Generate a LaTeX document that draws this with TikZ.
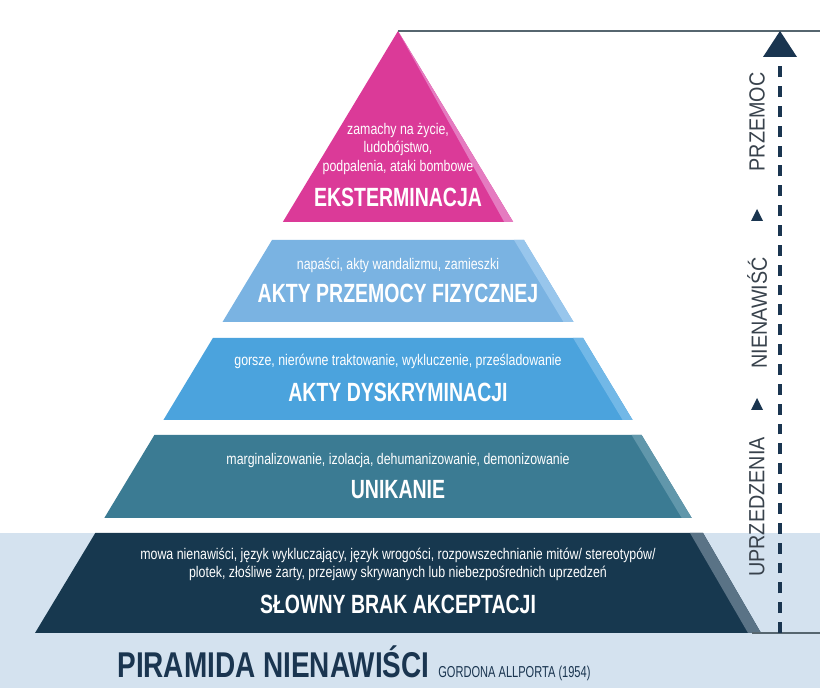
\documentclass[tikz,border=0pt]{standalone}
\usepackage{fontspec}
\setmainfont{Liberation Sans}
\newfontfamily\narrowfont[FakeStretch=0.74]{Liberation Sans}
\newfontfamily\notefont[FakeStretch=0.8]{Liberation Sans}
\newfontfamily\sidefont[FakeStretch=0.9]{Liberation Sans}
\newfontfamily\bigfont[FakeStretch=0.78]{Liberation Sans}
\newfontfamily\subfont[FakeStretch=0.7]{Liberation Sans}

\definecolor{exterm}{HTML}{DB3A98}
\definecolor{extermlight}{HTML}{E57BC0}
\definecolor{physical}{HTML}{7AB3E2}
\definecolor{physicallight}{HTML}{98C6EC}
\definecolor{discrim}{HTML}{4BA3DD}
\definecolor{discrimlight}{HTML}{72B8E7}
\definecolor{avoid}{HTML}{3B7B93}
\definecolor{avoidlight}{HTML}{6197AB}
\definecolor{verbal}{HTML}{17384F}
\definecolor{verballight}{HTML}{5A7386}
\definecolor{band}{HTML}{D4E2EF}
\definecolor{rulegray}{HTML}{56666F}
\definecolor{arrownavy}{HTML}{1A3550}
\definecolor{sidegray}{HTML}{38424C}

\tikzset{
  level title/.style={text=white, font=\narrowfont\bfseries\fontsize{15}{16}\selectfont},
  level note/.style={text=white, align=center, font=\notefont\fontsize{8.8}{10.4}\selectfont},
  side label/.style={text=sidegray, rotate=90, font=\sidefont\fontsize{12.5}{14}\selectfont},
}

\begin{document}
\begin{tikzpicture}[x=0.02cm, y=0.02cm]
        \useasboundingbox (0,0) rectangle (820,688);

        % Light band behind the lowest level and the caption
        \fill[band] (0,0) rectangle (820,155);

        % Level 1: triangle at the top
        \fill[exterm] (398,657) -- (513.2,466) -- (282.8,466) -- cycle;
        \fill[extermlight] (398,657) -- (513.2,466) -- (504.2,466) -- cycle;

        % Level 2
        \fill[physical] (272,448) -- (524,448) -- (573.5,366) -- (222.5,366) -- cycle;
        \fill[physicallight] (514,448) -- (524,448) -- (573.5,366) -- (563.5,366) -- cycle;

        % Level 3
        \fill[discrim] (212.9,350) -- (583.1,350) -- (632.6,268) -- (163.4,268) -- cycle;
        \fill[discrimlight] (573.1,350) -- (583.1,350) -- (632.6,268) -- (622.6,268) -- cycle;

        % Level 4
        \fill[avoid] (154.4,253) -- (641.6,253) -- (691.7,170) -- (104.3,170) -- cycle;
        \fill[avoidlight] (631.6,253) -- (641.6,253) -- (691.7,170) -- (681.7,170) -- cycle;

        % Level 5
        \fill[verbal] (95.3,155) -- (703,155) -- (761,55) -- (35,55) -- cycle;
        \fill[verballight] (690,155) -- (703,155) -- (761,55) -- (748,55) -- cycle;

        % Texts on the levels
        \node[level note] (n1) at (398,539) {zamachy na życie,\\ludobójstwo,\\podpalenia, ataki bombowe};
        \node[level title] (t1) at (398,491) {EKSTERMINACJA};

        \node[level note] (n2) at (398,423) {napaści, akty wandalizmu, zamieszki};
        \node[level title] (t2) at (398,395) {AKTY PRZEMOCY FIZYCZNEJ};

        \node[level note] (n3) at (398,327) {gorsze, nierówne traktowanie, wykluczenie, prześladowanie};
        \node[level title] (t3) at (398,296) {AKTY DYSKRYMINACJI};

        \node[level note] (n4) at (398,227) {marginalizowanie, izolacja, dehumanizowanie, demonizowanie};
        \node[level title] (t4) at (398,198) {UNIKANIE};

        \node[level note] (n5) at (398,123.5) {mowa nienawiści, język wykluczający, język wrogości, rozpowszechnianie mitów/ stereotypów/\\plotek, złośliwe żarty, przejawy skrywanych lub niebezpośrednich uprzedzeń};
        \node[level title] (t5) at (398,84) {SŁOWNY BRAK AKCEPTACJI};

        % Rules at the apex and at the base
        \coordinate (apex) at (398,657);
        \coordinate (topend) at (820,657);
        \coordinate (basestart) at (752,55);
        \coordinate (baseend) at (820,55);
        \draw[rulegray, line width=1.1pt] (apex) -- (topend);
        \draw[rulegray, line width=1.1pt] (basestart) -- (baseend);

        % Dashed arrow on the right
        \coordinate (arrbot) at (780,55);
        \coordinate (arrtop) at (780,627);
        \draw[arrownavy, line width=2.8pt, dash pattern=on 6.2pt off 5.1pt] (arrbot) -- (arrtop);
        \fill[arrownavy] (763,631) -- (797,631) -- (780,657) -- cycle;

        % Labels along the arrow
        \node[side label] (s1) at (757,566) {PRZEMOC};
        \fill[arrownavy] (751,467) -- (763,467) -- (757,479) -- cycle;
        \node[side label] (s2) at (757,375) {NIENAWIŚĆ};
        \fill[arrownavy] (751,278) -- (763,278) -- (757,290) -- cycle;
        \node[side label] (s3) at (757,181) {UPRZEDZENIA};

        % Caption
        \node[anchor=base west, inner sep=0pt, text=arrownavy, font=\bigfont\bfseries\fontsize{20.4}{22}\selectfont] (cap) at (117,10) {PIRAMIDA NIENAWIŚCI};
        \node[anchor=base west, inner sep=0pt, text=arrownavy, font=\subfont\fontsize{9}{10}\selectfont] (capsub) at (438,10) {GORDONA ALLPORTA (1954)};
    \end{tikzpicture}
\end{document}
